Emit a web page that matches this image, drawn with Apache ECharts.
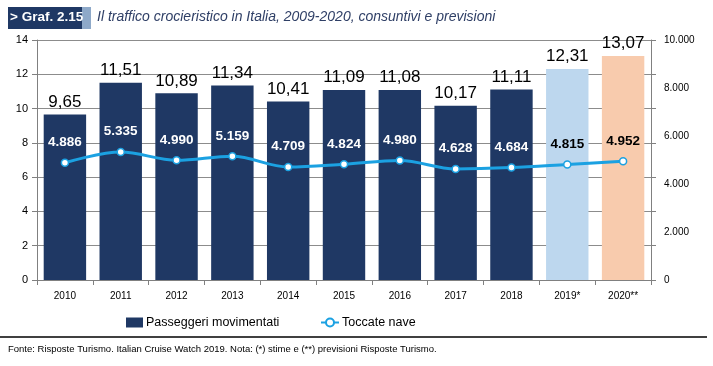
<!DOCTYPE html>
<html><head><meta charset="utf-8">
<script src="https://cdn.jsdelivr.net/npm/echarts@6/dist/echarts.min.js"></script>
<style>html,body{margin:0;padding:0;background:#fff}#c{width:713px;height:366px}</style>
</head><body><div id="c"></div>
<script>
const categories = ['2010','2011','2012','2013','2014','2015','2016','2017','2018','2019*','2020**'];
const passeggeri = [9.65, 11.51, 10.89, 11.34, 10.41, 11.09, 11.08, 10.17, 11.11, 12.31, 13.07];
const toccate = [4886, 5335, 4990, 5159, 4709, 4824, 4980, 4628, 4684, 4815, 4952];
const leftTicks = [0, 14, 2];
const rightTicks = [0, 10000, 2000];

const FONT = "'Liberation Sans',Arial,sans-serif";
const NAVY = '#1F3864';
const barColors = categories.map((c,i)=> i===9 ? '#BDD7EE' : (i===10 ? '#F8CBAD' : NAVY));
const fmtIt = (v)=> v.toFixed(2).replace('.', ',');
const fmtTh = (v)=> String(v).replace(/\B(?=(\d{3})+(?!\d))/g, '.');

const chart = echarts.init(document.getElementById('c'));
chart.setOption({
  animation:false,
  textStyle:{fontFamily:FONT},
  grid:{left:37,right:62,top:40,bottom:86},
  legend:[
    {left:121, top:311, itemWidth:17, itemHeight:10,
     textStyle:{fontFamily:FONT, fontSize:12.5, color:'#000', padding:[0,0,0,-2]},
     data:[{name:'Passeggeri movimentati', icon:'rect', itemStyle:{color:NAVY}}]},
    {left:315, top:311, itemWidth:18, itemHeight:10,
     textStyle:{fontFamily:FONT, fontSize:12.5, color:'#000', padding:[0,0,0,-2]},
     data:[{name:'Toccate nave'}]}
  ],
  xAxis:{
    type:'category', data:categories,
    axisLine:{lineStyle:{color:'#808080'}},
    axisTick:{show:true, length:5, lineStyle:{color:'#808080'}},
    axisLabel:{color:'#000', fontSize:10, margin:11, fontFamily:FONT}
  },
  yAxis:[
    {type:'value', min:leftTicks[0], max:leftTicks[1], interval:leftTicks[2], position:'left',
     axisLine:{show:true, lineStyle:{color:'#808080'}},
     axisTick:{show:true, length:5, lineStyle:{color:'#808080'}},
     splitLine:{lineStyle:{color:'#8c8c8c'}},
     axisLabel:{color:'#000', fontSize:11, margin:9, fontFamily:FONT}},
    {type:'value', min:rightTicks[0], max:rightTicks[1], interval:rightTicks[2], position:'right',
     axisLine:{show:true, lineStyle:{color:'#808080'}},
     axisTick:{show:false},
     splitLine:{show:false},
     axisLabel:{color:'#000', fontSize:10, margin:13, fontFamily:FONT, formatter:(v)=>fmtTh(v)}},
    {type:'value', min:leftTicks[0], max:leftTicks[1], interval:leftTicks[2], position:'right',
     axisLine:{show:false},
     axisTick:{show:true, length:5, lineStyle:{color:'#808080'}},
     splitLine:{show:false},
     axisLabel:{show:false}}
  ],
  series:[
    {name:'Passeggeri movimentati', type:'bar', yAxisIndex:0, barWidth:'76%',
     data: passeggeri.map((v,i)=>({value:v, itemStyle:{color:barColors[i]}})),
     label:{show:true, position:'top', distance:4, color:'#000', fontSize:17, fontFamily:FONT,
            formatter:(p)=>fmtIt(p.value)}},
    {name:'Toccate nave', type:'line', yAxisIndex:1, smooth:0.35,
     symbol:'circle', symbolSize:7,
     lineStyle:{color:'#1BA1E2', width:3},
     itemStyle:{color:'#fff', borderColor:'#1BA1E2', borderWidth:1.5},
     data: toccate.map((v,i)=>({value:v, label:{color: i>=9 ? '#000' : '#fff'}})),
     label:{show:true, position:'top', distance:9, fontSize:13.5, fontWeight:'bold', fontFamily:FONT,
            formatter:(p)=>fmtTh(p.value)},
     z:5}
  ],
  graphic:[
    {type:'rect', left:8, top:7, shape:{width:74, height:22}, style:{fill:'#1F3864'}},
    {type:'rect', left:82, top:7, shape:{width:9, height:22}, style:{fill:'#8EA9C9'}},
    {type:'text', left:10, top:10, style:{text:'> Graf. 2.15', fill:'#fff', font:"bold 13.5px "+FONT}},
    {type:'text', left:97, top:10, style:{text:'Il traffico crocieristico in Italia, 2009-2020, consuntivi e previsioni', fill:'#2F3F66', font:"italic 14px "+FONT}},
    {type:'line', shape:{x1:0, y1:337, x2:707, y2:337}, style:{stroke:'#000', lineWidth:1.5}},
    {type:'text', left:8, top:344, style:{text:'Fonte: Risposte Turismo. Italian Cruise Watch 2019. Nota: (*) stime e (**) previsioni Risposte Turismo.', fill:'#000', font:"9.5px "+FONT}}
  ]
});
</script></body></html>
